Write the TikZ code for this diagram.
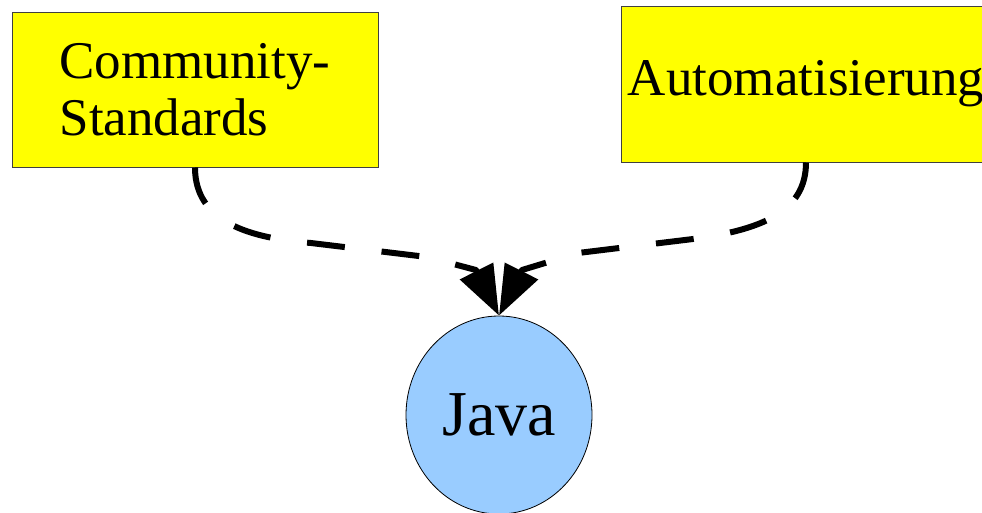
\documentclass[tikz,border=0pt]{standalone}
\usepackage{fontspec}
\setmainfont{Liberation Serif}
\usetikzlibrary{arrows.meta,shapes.geometric}
\definecolor{javablue}{RGB}{153,204,255}
\definecolor{boxyellow}{RGB}{255,255,0}
\begin{document}
\begin{tikzpicture}[x=1pt,y=-1pt,
  box/.style={draw=black!75, line width=1pt, fill=boxyellow, inner sep=0pt,
    font=\fontsize{53}{57}\selectfont},
  ball/.style={ellipse, draw=black, line width=0.8pt, fill=javablue, inner sep=0pt,
    minimum width=186pt, minimum height=198pt, font=\fontsize{64}{70}\selectfont},
  conn/.style={line width=6pt, line join=round, dash pattern=on 38pt off 37pt,
    -{Triangle[length=50pt,width=36pt]}}]
\useasboundingbox (0,0) rectangle (982,512);
\clip (0,0) rectangle (982,512);
\node[box, minimum width=366pt, minimum height=155pt, align=left] (cs) at (195,89.5) {Community-\\Standards};
\node[box, minimum width=370pt, minimum height=156pt] (auto) at (806,84) {Automatisierung};
\node[ball] (java) at (499,415) {Java};
\coordinate (l1) at (311,243);
\coordinate (l2) at (427,257);
\coordinate (l3) at (476,270);
\coordinate (r1) at (693,239);
\coordinate (r2) at (578,253);
\coordinate (r3) at (522,270);
\draw[conn] (cs.south) .. controls +(0,55) and (250,238) .. (l1) -- (l2) -- (l3) -- (java.north);
\draw[conn] (auto.south) .. controls +(0,50) and (760,230) .. (r1) -- (r2) -- (r3) -- (java.north);
\end{tikzpicture}
\end{document}
